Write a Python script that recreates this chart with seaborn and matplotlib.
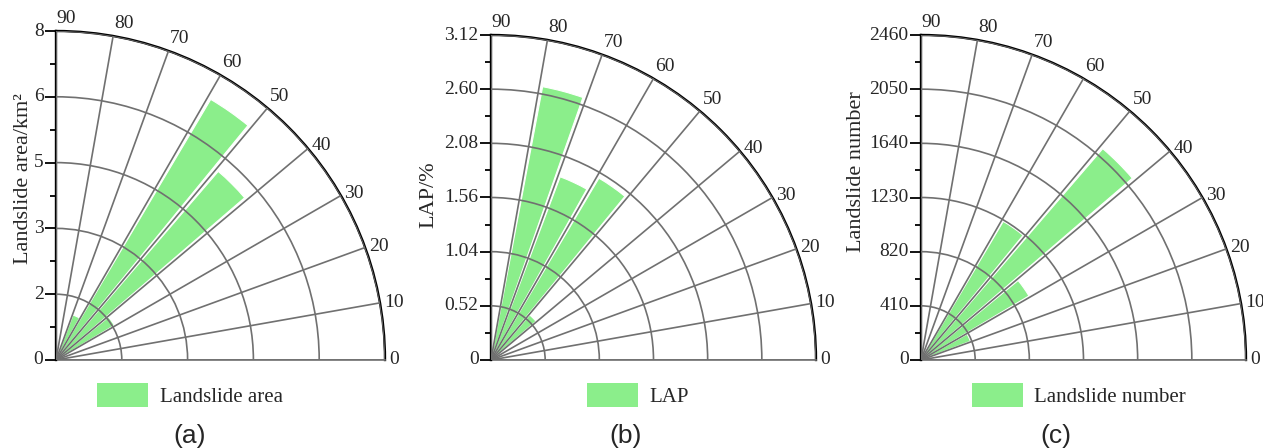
import numpy as np
import pandas as pd
import matplotlib
matplotlib.use("Agg")
import matplotlib.pyplot as plt
import matplotlib.transforms as mtransforms
from matplotlib.ticker import FixedLocator
from matplotlib.patches import Patch
import seaborn as sns

# ---------------- data ----------------
# aspect/slope class centres (degrees) and values
theta_a = [35, 45, 55, 65]
area_values = [1.65, 6.05, 7.37, 1.17]          # Landslide area / km²

theta_b = [45, 55, 65, 75]
lap_values = [0.57, 2.03, 1.88, 2.67]           # LAP / %

theta_c = [25, 35, 45, 55]
number_values = [400, 950, 2110, 1220]          # Landslide number

r_ticks_a = [0, 1.6, 3.2, 4.8, 6.4, 8.0]
r_labels_a = ["0", "2", "3", "5", "6", "8"]
r_ticks_b = [0, 0.52, 1.04, 1.56, 2.08, 2.60, 3.12]
r_labels_b = ["0", "0.52", "1.04", "1.56", "2.08", "2.60", "3.12"]
r_ticks_c = [0, 410, 820, 1230, 1640, 2050, 2460]
r_labels_c = ["0", "410", "820", "1230", "1640", "2050", "2460"]

theta_ticks = list(range(0, 91, 10))
theta_labels = [str(t) for t in theta_ticks]

ylabels = ["Landslide area/km\u00b2", "LAP/%", "Landslide number"]
legend_labels = ["Landslide area", "LAP", "Landslide number"]
panel_tags = ["(a)", "(b)", "(c)"]

# ---------------- style ----------------
sns.set_theme(style="white")
SERIF = ["Liberation Serif", "DejaVu Serif"]
SANS = ["Liberation Sans", "DejaVu Sans"]
plt.rcParams["font.family"] = SERIF
GREEN = "#8bee8b"
GRID = "#707070"

W, H = 1263, 448
fig = plt.figure(figsize=(W / 100, H / 100), dpi=100)

# origin (px) and radius (px) of each quarter plot
panels = [
    dict(ox=56, oy=360, r=329, theta=theta_a, vals=area_values, rt=r_ticks_a, rl=r_labels_a,
         ylab=ylabels[0], ylx=-0.10, yly=0.55, leg=legend_labels[0], legx=97, tag=panel_tags[0], tagx=190),
    dict(ox=491, oy=360, r=325, theta=theta_b, vals=lap_values, rt=r_ticks_b, rl=r_labels_b,
         ylab=ylabels[1], ylx=-0.19, yly=0.51, leg=legend_labels[1], legx=587, tag=panel_tags[1], tagx=626),
    dict(ox=921, oy=360, r=325, theta=theta_c, vals=number_values, rt=r_ticks_c, rl=r_labels_c,
         ylab=ylabels[2], ylx=-0.197, yly=0.58, leg=legend_labels[2], legx=972, tag=panel_tags[2], tagx=1056),
]

for p in panels:
    ax = fig.add_axes([p["ox"] / W, (H - p["oy"]) / H, p["r"] / W, p["r"] / H], projection="polar")
    df = pd.DataFrame({"theta": np.deg2rad(p["theta"]), "value": p["vals"]})
    sns.barplot(data=df, x="theta", y="value", native_scale=True, color=GREEN, saturation=1,
                width=0.86, edgecolor="white", linewidth=0.8, errorbar=None, ax=ax)
    ax.set_xlabel("")
    ax.set_ylabel("")
    rmax = p["rt"][-1]
    ax.set_thetamin(0)
    ax.set_thetamax(90)
    ax.set_ylim(0, rmax)
    ax.set_yticks(p["rt"])
    ax.set_yticklabels(p["rl"])
    step = p["rt"][1] - p["rt"][0]
    ax.yaxis.set_minor_locator(FixedLocator([t + step / 2 for t in p["rt"][:-1]]))
    ax.set_xticks(np.deg2rad(theta_ticks))
    ax.set_xticklabels([])
    ax.xaxis.set_minor_locator(FixedLocator(np.deg2rad(np.arange(5, 90, 10))))

    ax.tick_params(axis="y", which="both", left=False, labelleft=False, right=True,
                   labelright=True, direction="out", color="black")
    ax.tick_params(axis="y", which="major", length=8, width=1.3, pad=1, labelsize=14)
    ax.tick_params(axis="y", which="minor", length=4.5, width=1.3)
    ax.tick_params(axis="x", which="both", direction="in", color="black")
    ax.tick_params(axis="x", which="major", length=6, width=1.3, pad=2)
    ax.tick_params(axis="x", which="minor", length=4, width=1.3)

    ax.grid(True, which="major", color=GRID, linewidth=1.2)
    ax.set_axisbelow(False)
    ax.spines["polar"].set_linewidth(1.7)
    ax.spines["polar"].set_color("black")
    ax.spines["end"].set_linewidth(1.7)
    ax.spines["end"].set_color("black")
    ax.spines["start"].set_linewidth(1.2)
    ax.spines["start"].set_color(GRID)
    ax.patch.set_facecolor("white")

    # angular labels outside the arc
    for ang, lab in zip(theta_ticks, theta_labels):
        a = np.deg2rad(ang)
        pad = 3
        tr = mtransforms.offset_copy(ax.transData, fig=fig, x=pad * np.cos(a), y=pad * np.sin(a), units="points")
        va = "bottom" if ang >= 50 else "center"
        ax.text(a, rmax, lab, transform=tr, ha="left", va=va, fontsize=14, clip_on=False)

    ax.text(p["ylx"], p["yly"], p["ylab"], transform=ax.transAxes, rotation=90,
            ha="center", va="center", fontsize=16)

    handle = Patch(facecolor=GREEN, edgecolor="none")
    fig.legend([handle], [p["leg"]], loc="center left",
               bbox_to_anchor=(p["legx"] / W, 1 - 395 / H), frameon=False, fontsize=15,
               handlelength=2.45, handleheight=1.45, handletextpad=0.55, borderpad=0, borderaxespad=0)
    fig.text(p["tagx"] / W, 1 - 436 / H, p["tag"], ha="center", va="center", fontsize=19, family=SANS)

fig.savefig("out.png", dpi=100)
